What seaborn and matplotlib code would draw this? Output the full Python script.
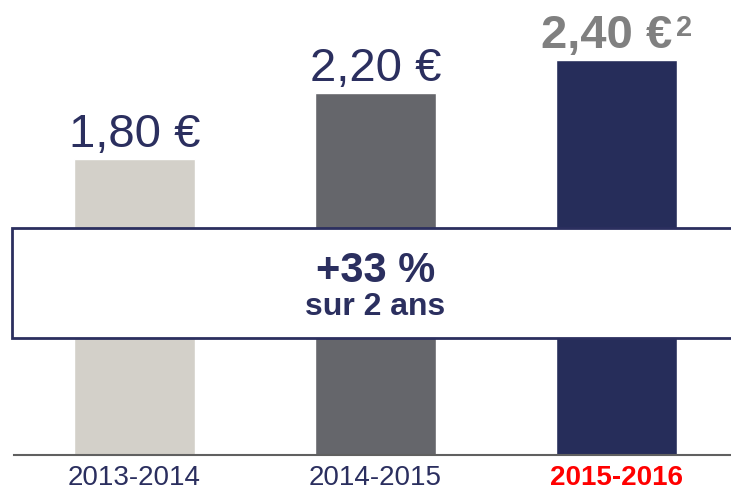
import matplotlib
matplotlib.use("Agg")
import matplotlib.pyplot as plt
from matplotlib.patches import Rectangle
import seaborn as sns

# =========================
# Données
# =========================
saisons = ["2013-2014", "2014-2015", "2015-2016"]
dividendes = [1.80, 2.20, 2.40]
etiquettes = ["1,80 €", "2,20 €", "2,40 €"]
couleurs = ["#D3D0C9", "#65666B", "#262D5A"]
hausse = "+33 %"
periode = "sur 2 ans"

marine = "#2B2F5F"

sns.set_theme(style="white")
plt.rcParams["font.family"] = ["Liberation Sans", "DejaVu Sans"]

fig = plt.figure(figsize=(7.31, 4.96), dpi=100)
ax = fig.add_axes([14 / 731, 41 / 496, 717 / 731, 455 / 496])

sns.barplot(x=saisons, y=dividendes, hue=saisons, palette=couleurs,
            width=0.5, saturation=1, legend=False, ax=ax)

ax.set_xlim(-0.5, 2.475)
ax.set_ylim(0, 2.766)

# étiquettes de valeur
for i, (v, lab) in enumerate(zip(dividendes, etiquettes)):
    if i < 2:
        ax.text(i, v + 0.072, lab, ha="center", va="baseline",
                fontsize=34, color=marine)
    else:
        ax.annotate(lab, xy=(i, v + 0.072), xytext=(40, 0),
                    textcoords="offset points", ha="right", va="baseline",
                    fontsize=34, fontweight="bold", color="#808080")
        ax.annotate("2", xy=(i, v + 0.072), xytext=(43, 9),
                    textcoords="offset points", ha="left", va="baseline",
                    fontsize=21, fontweight="bold", color="#808080")

# encadré
box = Rectangle((-0.508, 0.711), 3.2, 0.669, facecolor="white",
                edgecolor=marine, lw=2, zorder=5, clip_on=False)
ax.add_patch(box)
ax.text(1, 1.12, hausse, ha="center", va="center", fontsize=30,
        fontweight="bold", color=marine, zorder=6)
ax.text(1, 0.90, periode, ha="center", va="center", fontsize=23,
        fontweight="bold", color=marine, zorder=6)

# axes
ax.set_yticks([])
ax.set_xlabel("")
ax.set_ylabel("")
ax.tick_params(axis="x", length=0, pad=7)
for lbl in ax.get_xticklabels():
    lbl.set_fontsize(20)
    lbl.set_color(marine)
ax.get_xticklabels()[2].set_color("#FF0000")
ax.get_xticklabels()[2].set_fontweight("bold")

for s in ["top", "right", "left"]:
    ax.spines[s].set_visible(False)
ax.spines["bottom"].set_color("#606060")
ax.spines["bottom"].set_linewidth(1.5)

fig.savefig("out.png", dpi=100)
